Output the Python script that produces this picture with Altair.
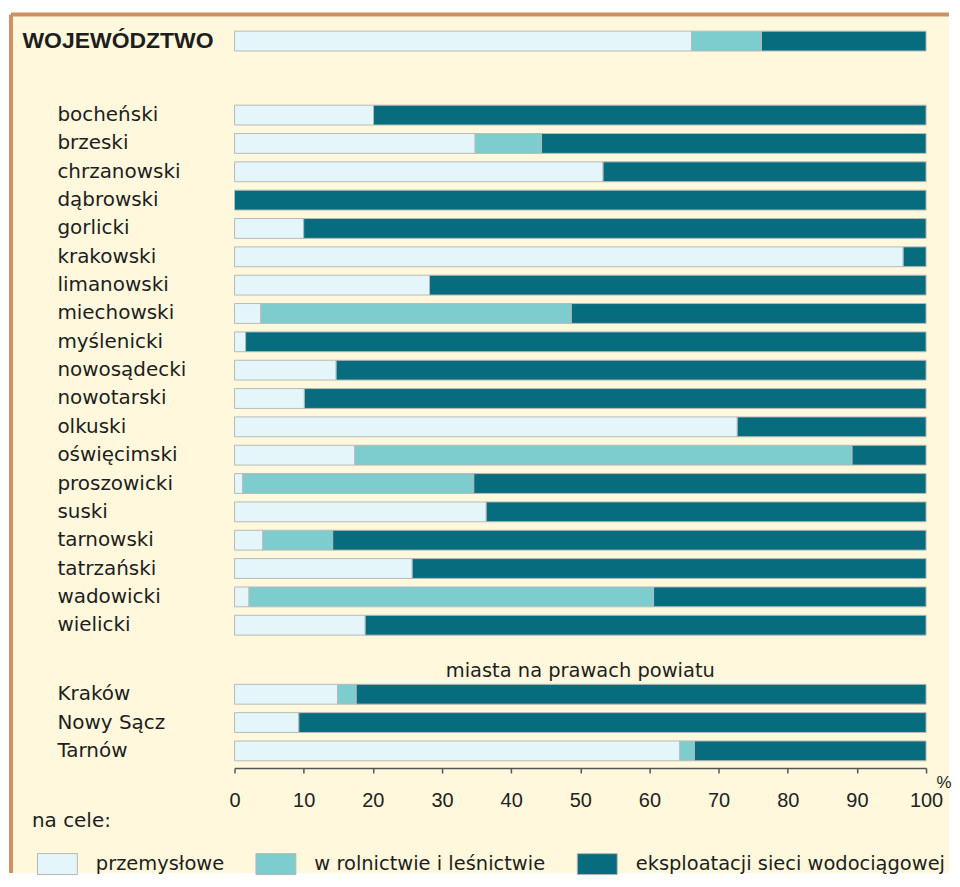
import altair as alt
import pandas as pd

categories = ["przemysłowe", "w rolnictwie i leśnictwie", "eksploatacji sieci wodociągowej"]
colors = ["#E4F6FA", "#7ECDCE", "#066C7E"]

woj_names = ["WOJEWÓDZTWO"]
woj_prz = [66.1]
woj_rol = [10.1]
woj_eks = [23.8]

powiaty = ["bocheński", "brzeski", "chrzanowski", "dąbrowski", "gorlicki", "krakowski",
           "limanowski", "miechowski", "myślenicki", "nowosądecki", "nowotarski", "olkuski",
           "oświęcimski", "proszowicki", "suski", "tarnowski", "tatrzański", "wadowicki", "wielicki"]
pow_prz = [20.1, 34.8, 53.3, 0.0, 10.0, 96.7, 28.2, 3.8, 1.6, 14.7, 10.1, 72.7,
           17.4, 1.2, 36.4, 4.1, 25.7, 2.1, 18.9]
pow_rol = [0.0, 9.6, 0.0, 0.0, 0.0, 0.0, 0.0, 44.9, 0.0, 0.0, 0.0, 0.0,
           71.9, 33.4, 0.0, 10.1, 0.0, 58.5, 0.0]
pow_eks = [79.9, 55.6, 46.7, 100.0, 90.0, 3.3, 71.8, 51.3, 98.4, 85.3, 89.9, 27.3,
           10.7, 65.4, 63.6, 85.8, 74.3, 39.4, 81.1]

miasta = ["Kraków", "Nowy Sącz", "Tarnów"]
mia_prz = [14.9, 9.3, 64.4]
mia_rol = [2.7, 0.0, 2.1]
mia_eks = [82.4, 90.7, 33.5]

tick_values = [0, 10, 20, 30, 40, 50, 60, 70, 80, 90, 100]


def long_df(names, a, b, c):
    rows = []
    for i, n in enumerate(names):
        for k, v in enumerate([a[i], b[i], c[i]]):
            if v > 0:
                rows.append({"row": n, "cat": categories[k], "idx": k, "val": v})
    return pd.DataFrame(rows)


LABEL_COLOR = "#1E1E1E"

legend = alt.Legend(
    orient="none", legendX=-203, legendY=785.5, direction="horizontal",
    title="na cele:", titleFont="DejaVu Sans", titleFontSize=20, titleFontWeight="normal",
    titleColor=LABEL_COLOR, titlePadding=13, titleAnchor="start",
    labelFont="DejaVu Sans", labelFontSize=19.5, labelColor=LABEL_COLOR, labelLimit=500,
    symbolType="M-1,-0.525H1V0.525H-1Z", symbolSize=1600, symbolStrokeColor="#B5B5B5",
    symbolStrokeWidth=1, symbolOffset=5, labelOffset=18, columnPadding=26, padding=0,
    symbolOpacity=1,
)


def panel(df, names, h, y_axis, x_axis, title=None):
    base = alt.Chart(df, title=title) if title is not None else alt.Chart(df)
    return base.mark_bar(stroke="#B9B9B9", strokeWidth=1).encode(
        y=alt.Y("row:N", sort=names, title=None, axis=y_axis,
                scale=alt.Scale(paddingInner=0.3, paddingOuter=0.15)),
        x=alt.X("val:Q", stack="zero", scale=alt.Scale(domain=[0, 100], nice=False),
                axis=x_axis, title="%" if x_axis is not None else None),
        color=alt.Color("cat:N", scale=alt.Scale(domain=categories, range=colors),
                        legend=legend),
        order=alt.Order("idx:Q", sort="ascending"),
    ).properties(width=693, height=h)


axis_a = alt.Axis(domain=False, ticks=False, tickSize=0, labelAlign="left", labelPadding=213,
                  labelFont="Liberation Sans", labelFontWeight="bold", labelFontSize=23,
                  labelColor=LABEL_COLOR, labelLimit=400, zindex=2)
axis_b = alt.Axis(domain=False, ticks=False, tickSize=0, labelAlign="left", labelPadding=178,
                  labelFont="DejaVu Sans", labelFontSize=20, labelColor=LABEL_COLOR, labelLimit=400,
                  zindex=2)
axis_x = alt.Axis(values=tick_values, grid=False, domainColor="#555555", tickColor="#555555",
                  domainWidth=1.5, tickWidth=1.5, tickSize=5, labelPadding=18, offset=3,
                  labelFont="Liberation Sans", labelFontSize=20, labelColor="#222222",
                  labelFlush=False, titleFont="Liberation Sans", titleFontSize=17,
                  titleFontWeight="normal", titleColor="#222222", titleX=703, titleY=6.4,
                  titleAlign="left", titleBaseline="top", zindex=2)

deco = pd.DataFrame({"d": [0]})
frame_color = "#CD9262"
bg = alt.Chart(deco).mark_rect(color="#FFF8DC").encode(
    x=alt.value(-224), x2=alt.value(716), y=alt.value(-12.5), y2=alt.value(848))
top_rule = alt.Chart(deco).mark_rule(color=frame_color, strokeWidth=4).encode(
    x=alt.value(-224), x2=alt.value(716), y=alt.value(-12.5))
left_rule = alt.Chart(deco).mark_rule(color=frame_color, strokeWidth=4).encode(
    x=alt.value(-224), y=alt.value(-12.5), y2=alt.value(848))

pa = alt.layer(bg, panel(long_df(woj_names, woj_prz, woj_rol, woj_eks), woj_names, 28.4, axis_a, None),
               top_rule, left_rule)
pb = panel(long_df(powiaty, pow_prz, pow_rol, pow_eks), powiaty, 539.6, axis_b, None)
pc = panel(long_df(miasta, mia_prz, mia_rol, mia_eks), miasta, 85.1, axis_b, axis_x,
           title=alt.TitleParams("miasta na prawach powiatu", font="DejaVu Sans", fontSize=19.5,
                                 fontWeight="normal", color=LABEL_COLOR, anchor="middle",
                                 frame="group", offset=-1))

chart = alt.vconcat(
    pa,
    alt.vconcat(pb, pc, spacing=40.4, bounds="flush"),
    spacing=45.2, bounds="flush",
).properties(
    padding={"left": 1, "top": 3, "right": 0, "bottom": 0}
).configure_view(stroke=None)

chart.save("out.html", embed_options={"renderer": "svg", "actions": False})
